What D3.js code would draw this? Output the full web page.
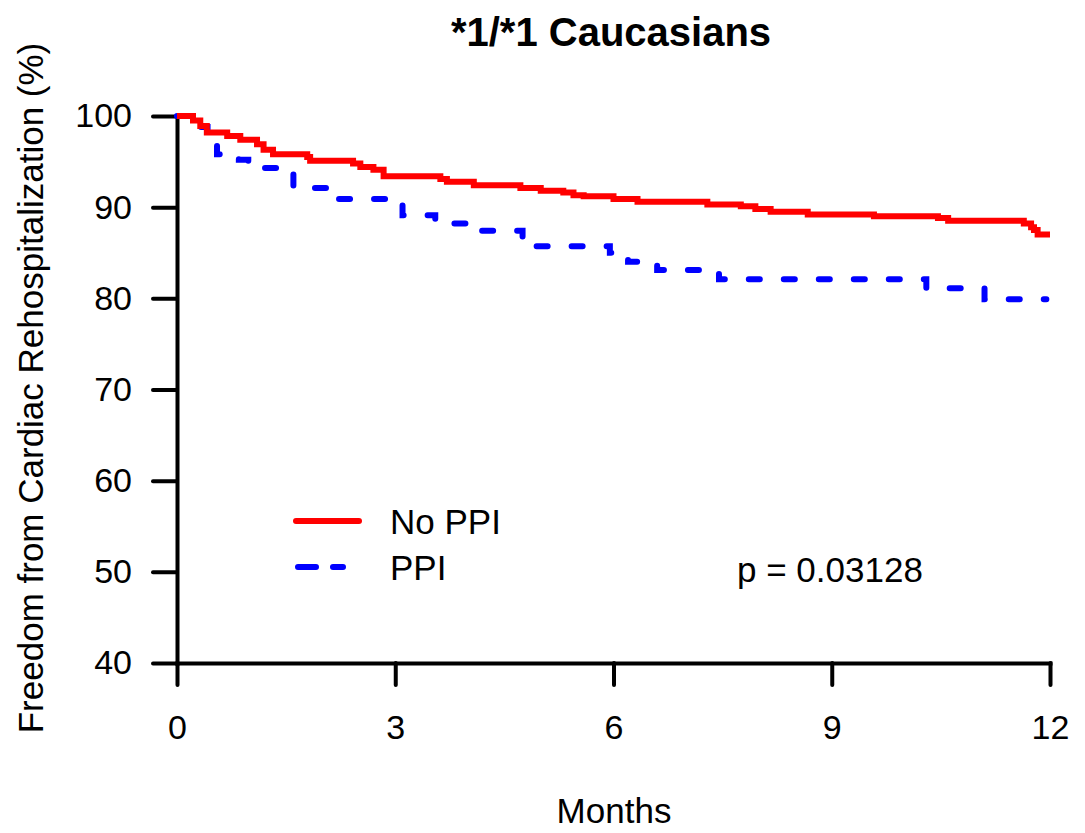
<!DOCTYPE html>
<html>
<head>
<meta charset="utf-8">
<script src="https://cdn.jsdelivr.net/npm/d3@7"></script>
<style>
	body { margin:0; background:#fff; }
	text { font-family: "Liberation Sans", Arial, sans-serif; }
</style>
</head>
<body>
<div id="chart"></div>
<script>
	// months, survival (%) for each step
	var noPpiT = [0, 0.22, 0.32, 0.41, 0.69, 0.87, 1.1, 1.19, 1.32, 1.79, 1.83, 2.42, 2.52, 2.7, 2.84, 3.62, 3.71, 4.08, 4.72, 5.0, 5.31, 5.45, 5.59, 6.0, 6.33, 7.29, 7.75, 7.95, 8.16, 8.67, 9.58, 10.46, 10.6, 11.64, 11.74, 11.78, 11.83, 12];
	var noPpiV = [100, 99.5, 98.9, 98.2, 97.8, 97.4, 96.9, 96.3, 95.8, 95.5, 95.1, 94.8, 94.4, 94.1, 93.4, 93.1, 92.8, 92.4, 92.1, 91.8, 91.6, 91.3, 91.2, 90.9, 90.6, 90.3, 90.1, 89.8, 89.5, 89.2, 89.0, 88.8, 88.5, 88.2, 87.8, 87.5, 87.0, 87.0];

	var ppiT = [0, 0.3, 0.42, 0.55, 0.85, 0.98, 1.1, 1.6, 2.1, 3.1, 3.55, 4.17, 4.75, 4.85, 5.95, 6.05, 6.2, 6.6, 7.45, 10.3, 11.1, 11.95];
	var ppiV = [100, 98.8, 97.6, 95.8, 95.2, 94.6, 94.3, 92.1, 90.9, 89.1, 88.2, 87.4, 86.5, 85.7, 85.0, 84.6, 84.0, 83.1, 82.1, 81.1, 79.9, 79.9];

	var xTicks = [0, 3, 6, 9, 12];
	var yTicks = [40, 50, 60, 70, 80, 90, 100];

	var W = 1085, H = 833;
	var svg = d3.select('#chart').append('svg')
		.attr('width', W).attr('height', H);

	var x = d3.scaleLinear().domain([0, 12]).range([177, 1050]);
	var y = d3.scaleLinear().domain([40, 100]).range([663, 116]);

	var line = d3.line()
		.x(function(d){ return x(d[0]); })
		.y(function(d){ return y(d[1]); })
		.curve(d3.curveStepAfter);

	function pts(t, v){
		return t.map(function(d, i){ return [d, v[i]]; });
	}

	// axes
	var gy = svg.append('g').attr('transform', 'translate(' + x(0) + ',0)')
		.call(d3.axisLeft(y).tickValues(yTicks).tickSize(24).tickSizeOuter(0).tickPadding(21));
	var gx = svg.append('g').attr('transform', 'translate(0,' + y(40) + ')')
		.call(d3.axisBottom(x).tickValues(xTicks).tickSize(22).tickSizeOuter(0).tickPadding(30));

	[gy, gx].forEach(function(g){
		g.select('.domain').attr('stroke', '#000').attr('stroke-width', 4).attr('stroke-linecap', 'square');
		g.selectAll('.tick line').attr('stroke', '#000').attr('stroke-width', 4).attr('stroke-linecap', 'round');
		g.selectAll('.tick text').attr('fill', '#000').style('font-size', '34px');
	});

	// curves
	svg.append('path').datum(pts(ppiT, ppiV))
		.attr('d', line).attr('fill', 'none')
		.attr('stroke', '#0000ff').attr('stroke-width', 6)
		.attr('stroke-dasharray', '11,24').attr('stroke-linecap', 'round');

	svg.append('path').datum(pts(noPpiT, noPpiV))
		.attr('d', line).attr('fill', 'none')
		.attr('stroke', '#ff0000').attr('stroke-width', 6);

	// legend
	svg.append('line').attr('x1', 296).attr('x2', 359).attr('y1', 521).attr('y2', 521)
		.attr('stroke', '#ff0000').attr('stroke-width', 6).attr('stroke-linecap', 'round');
	svg.append('line').attr('x1', 298).attr('x2', 343).attr('y1', 567).attr('y2', 567)
		.attr('stroke', '#0000ff').attr('stroke-width', 6).attr('stroke-linecap', 'round')
		.attr('stroke-dasharray', '18,17');
	svg.append('text').attr('x', 390).attr('y', 534).text('No PPI').style('font-size', '35px');
	svg.append('text').attr('x', 390).attr('y', 580).text('PPI').style('font-size', '35px');
	svg.append('text').attr('x', 737).attr('y', 582).text('p = 0.03128').style('font-size', '35px');

	// titles
	svg.append('text').attr('x', 611).attr('y', 46).attr('text-anchor', 'middle')
		.style('font-size', '40px').style('font-weight', 'bold').text('*1/*1 Caucasians');
	svg.append('text').attr('x', 614).attr('y', 823).attr('text-anchor', 'middle')
		.style('font-size', '35px').text('Months');
	svg.append('text').attr('transform', 'translate(43,388) rotate(-90)').attr('text-anchor', 'middle')
		.style('font-size', '35px').text('Freedom from Cardiac Rehospitalization (%)');
</script>
</body>
</html>
